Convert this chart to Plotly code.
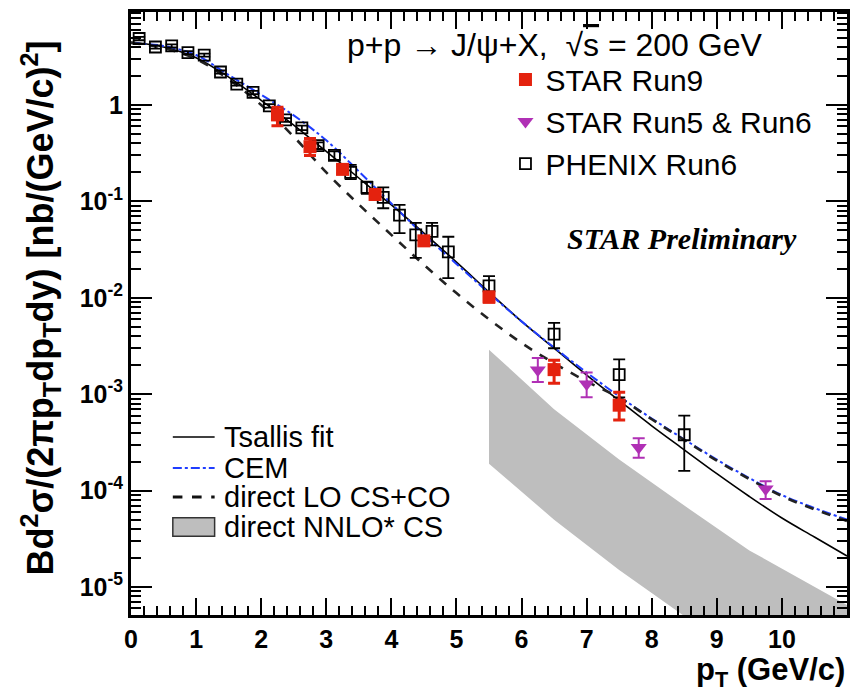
import plotly.graph_objects as go

# ---------------- data ----------------
# STAR Run9 (filled red squares)
run9_pt = [2.25, 2.75, 3.25, 3.75, 4.5, 5.5, 6.5, 7.5]
run9_y = [0.79, 0.37, 0.215, 0.118, 0.039, 0.0102, 0.0018, 7.7e-4]
run9_up = [0.16, 0.08, 0.02, 0.01, 0.004, 0.0012, 0.00045, 0.00028]
run9_dn = [0.18, 0.07, 0.02, 0.01, 0.004, 0.0012, 0.0005, 0.00023]

# STAR Run5 & Run6 (magenta down triangles)
run56_pt = [6.25, 7.0, 7.8, 9.75]
run56_y = [0.00178, 0.00128, 2.8e-4, 1.04e-4]
run56_up = [0.0006, 0.0004, 0.7e-4, 0.21e-4]
run56_dn = [0.00044, 0.00035, 0.6e-4, 0.22e-4]

# PHENIX Run6 (open squares)
phenix_pt = [0.125, 0.375, 0.625, 0.875, 1.125, 1.375, 1.625, 1.875, 2.125, 2.375,
             2.625, 2.875, 3.125, 3.375, 3.625, 3.875, 4.125, 4.375, 4.625, 4.875,
             5.5, 6.5, 7.5, 8.5]
phenix_y = [4.9, 4.0, 4.1, 3.5, 3.3, 2.2, 1.65, 1.35, 0.98, 0.70,
            0.58, 0.38, 0.30, 0.20, 0.14, 0.11, 0.072, 0.045, 0.049, 0.030,
            0.0133, 0.0042, 0.0016, 3.8e-4]
phenix_up = [0.2, 0.15, 0.15, 0.12, 0.12, 0.08, 0.06, 0.05, 0.04, 0.03,
             0.03, 0.03, 0.03, 0.04, 0.02, 0.03, 0.020, 0.015, 0.011, 0.013,
             0.0035, 0.0013, 0.0007, 2.2e-4]
phenix_dn = [0.2, 0.15, 0.15, 0.12, 0.12, 0.08, 0.06, 0.05, 0.04, 0.03,
             0.03, 0.03, 0.03, 0.03, 0.02, 0.025, 0.025, 0.019, 0.014, 0.014,
             0.0021, 0.0012, 0.00067, 2.2e-4]

# model curves on a common pT grid
curve_pt = [0.0, 0.5, 1.0, 1.5, 2.0, 2.5, 3.0, 3.5, 4.0, 4.5, 5.0, 5.5,
            6.0, 6.5, 7.0, 7.5, 8.0, 8.5, 9.0, 9.5, 10.0, 10.5, 11.0]
tsallis_y = [4.5, 4.0, 3.1, 1.95, 1.12, 0.62, 0.33, 0.175, 0.092, 0.047, 0.0235, 0.0115,
             0.0057, 0.0030, 0.00158, 8.6e-4, 4.7e-4, 2.65e-4, 1.5e-4, 8.7e-5, 5.2e-5, 3.3e-5, 2.1e-5]
cem_y = [4.4, 4.1, 3.3, 2.05, 1.28, 0.78, 0.43, 0.205, 0.095, 0.045, 0.0225, 0.0112,
         0.0057, 0.00305, 0.00168, 9.5e-4, 5.6e-4, 3.4e-4, 2.1e-4, 1.35e-4, 9.0e-5, 6.6e-5, 5.0e-5]
lo_y = [4.4, 3.9, 3.0, 1.85, 1.0, 0.47, 0.2, 0.093, 0.045, 0.022, 0.0112, 0.0060,
        0.0034, 0.0021, 0.00136, 9.2e-4, 5.5e-4, 3.35e-4, 2.05e-4, 1.32e-4, 8.8e-5, 6.4e-5, 4.85e-5]

# direct NNLO* CS band
nnlo_pt = [5.5, 6.5, 7.5, 8.5, 9.5, 10.5, 11.0]
nnlo_hi = [2.9e-3, 7.0e-4, 2.1e-4, 7.0e-5, 2.4e-5, 1.0e-5, 6.5e-6]
nnlo_lo = [1.9e-4, 5.0e-5, 1.5e-5, 5.0e-6, 1.8e-6, 7.0e-7, 4.5e-7]

x_ticks = list(range(0, 11))
y_ticks = [1, 1e-1, 1e-2, 1e-3, 1e-4, 1e-5]
y_ticktext = ["1", "10<sup>-1</sup>", "10<sup>-2</sup>", "10<sup>-3</sup>",
              "10<sup>-4</sup>", "10<sup>-5</sup>"]

# model legend entries: label, line colour, width, dash
model_keys = [("Tsallis fit", "black", 1.6, "solid"),
              ("CEM", "#1f3dff", 2.2, "dashdot"),
              ("direct LO CS+CO", "#111111", 3.2, "dash")]
band_label = "direct NNLO* CS"

RED = "#e4220e"
MAGENTA = "#b030b5"
BLUE = "#1f3dff"
GRAY = "#bebebe"
SANS = "Liberation Sans"

fig = go.Figure()

# band
fig.add_trace(go.Scatter(
    x=nnlo_pt + nnlo_pt[::-1], y=nnlo_hi + nnlo_lo[::-1],
    fill="toself", fillcolor=GRAY, line=dict(width=0), mode="lines",
    showlegend=False, hoverinfo="skip"))

# curves
fig.add_trace(go.Scatter(x=curve_pt, y=tsallis_y, mode="lines", showlegend=False,
                         line=dict(color="black", width=1.6, shape="spline")))
fig.add_trace(go.Scatter(x=curve_pt, y=cem_y, mode="lines", showlegend=False,
                         line=dict(color=BLUE, width=2, dash="dashdot", shape="spline")))
fig.add_trace(go.Scatter(x=curve_pt, y=lo_y, mode="lines", showlegend=False,
                         line=dict(color="#222222", width=2.6, dash="dash", shape="spline")))

# data
fig.add_trace(go.Scatter(
    x=phenix_pt, y=phenix_y, mode="markers", name="PHENIX Run6",
    marker=dict(symbol="square-open", size=11, color="black", line=dict(width=1.8)),
    error_y=dict(type="data", symmetric=False, array=phenix_up, arrayminus=phenix_dn,
                 color="black", thickness=1.8, width=6),
    legendrank=3))
fig.add_trace(go.Scatter(
    x=run56_pt, y=run56_y, mode="markers", name="STAR Run5 & Run6",
    marker=dict(symbol="triangle-down", size=14, color=MAGENTA),
    error_y=dict(type="data", symmetric=False, array=run56_up, arrayminus=run56_dn,
                 color=MAGENTA, thickness=2, width=6),
    legendrank=2))
fig.add_trace(go.Scatter(
    x=run9_pt, y=run9_y, mode="markers", name="STAR Run9",
    marker=dict(symbol="square", size=13, color=RED),
    error_y=dict(type="data", symmetric=False, array=run9_up, arrayminus=run9_dn,
                 color=RED, thickness=3, width=6),
    legendrank=1))

x_minor = [i * 0.2 for i in range(0, 56) if i % 5 != 0]
y_minor = [m * 10.0 ** e for e in range(-6, 1) for m in range(2, 10)]

fig.update_layout(
    width=853, height=692,
    margin=dict(l=131, r=3, t=12, b=77),
    paper_bgcolor="white", plot_bgcolor="white",
    font=dict(family=SANS, color="black"),
    xaxis=dict(range=[0, 11], tickmode="array", tickvals=x_ticks,
               ticks="inside", ticklen=17, tickwidth=2, tickcolor="black",
               showline=True, linewidth=3, linecolor="black", mirror="ticks",
               showgrid=False, zeroline=False,
               tickfont=dict(family=SANS, size=25, weight="bold"),
               minor=dict(tickvals=x_minor, ticks="inside", ticklen=9, tickwidth=2,
                          tickcolor="black", showgrid=False)),
    yaxis=dict(type="log", range=[-5.29, 0.965], tickmode="array",
               tickvals=y_ticks, ticktext=y_ticktext,
               ticks="inside", ticklen=21, tickwidth=2, tickcolor="black",
               showline=True, linewidth=3, linecolor="black", mirror="ticks",
               showgrid=False, zeroline=False,
               tickfont=dict(family=SANS, size=25, weight="bold"),
               minor=dict(tickvals=y_minor, ticks="inside", ticklen=10, tickwidth=2,
                          tickcolor="black", showgrid=False)),
    legend=dict(x=0.523, y=0.931, xanchor="left", yanchor="top",
                font=dict(family=SANS, size=30), bgcolor="rgba(0,0,0,0)",
                tracegroupgap=0, itemsizing="trace"),
    showlegend=True,
)

# compact legend for the model curves (keys + labels, paper coordinates)
key_x0, key_x1, text_x = 0.0584, 0.1168, 0.1266
row_y = [0.2952, 0.2438, 0.1957, 0.1459]
for (label, color, width, dash), yy in zip(model_keys, row_y[:3]):
    fig.add_shape(type="line", xref="paper", yref="paper",
                  x0=key_x0, x1=key_x1, y0=yy, y1=yy,
                  line=dict(color=color, width=width, dash=dash))
    fig.add_annotation(xref="paper", yref="paper", x=text_x, y=yy,
                       xanchor="left", yanchor="middle", text=label,
                       showarrow=False, font=dict(family=SANS, size=29))
fig.add_shape(type="rect", xref="paper", yref="paper",
              x0=key_x0, x1=key_x1, y0=row_y[3] - 0.0155, y1=row_y[3] + 0.0155,
              fillcolor=GRAY, line=dict(color="#333333", width=1.5))
fig.add_annotation(xref="paper", yref="paper", x=text_x, y=row_y[3],
                   xanchor="left", yanchor="middle", text=band_label,
                   showarrow=False, font=dict(family=SANS, size=29))

fig.add_annotation(
    xref="paper", yref="paper", x=0.8846, y=0.945, xanchor="right", yanchor="middle",
    text="p+p \u2192 J/\u03c8+X,  \u221a<span style='text-decoration:overline'>s</span> = 200 GeV",
    showarrow=False, font=dict(family=SANS, size=32))
fig.add_annotation(
    xref="paper", yref="paper", x=0.769, y=0.625, xanchor="center", yanchor="middle",
    text="<b><i>STAR Preliminary</i></b>", showarrow=False,
    font=dict(family="Liberation Serif", size=30))
fig.add_annotation(
    xref="paper", yref="paper", x=1.0, y=-0.094, xanchor="right", yanchor="middle",
    text="<b>p<sub>T</sub> (GeV/c)</b>", showarrow=False,
    font=dict(family=SANS, size=31))
fig.add_annotation(
    xref="paper", yref="paper", x=-0.1266, y=0.509, xanchor="center", yanchor="middle",
    textangle=-90,
    text="<b>Bd<sup>2</sup>\u03c3/(2\u03c0p<sub>T</sub>dp<sub>T</sub>dy) [nb/(GeV/c)<sup>2</sup>]</b>",
    showarrow=False, font=dict(family=SANS, size=36))

fig.write_html("out.html")
